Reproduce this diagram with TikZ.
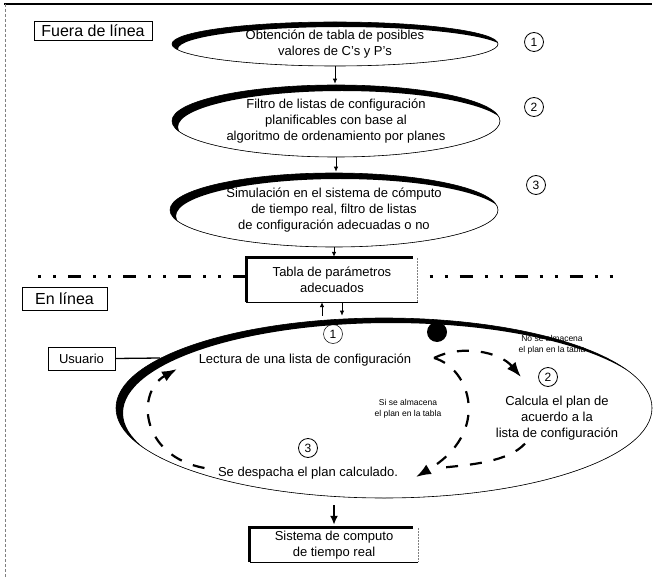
\documentclass[tikz,border=0pt]{standalone}
\usepackage{fontspec}
\setmainfont{Liberation Sans}
\usetikzlibrary{arrows.meta,shapes.geometric}

\tikzset{
  txt/.style={font=\fontsize{13pt}{16pt}\selectfont, align=center},
  chico/.style={font=\fontsize{8.5pt}{11pt}\selectfont, align=center},
  etiqueta/.style={draw, line width=0.8pt, font=\fontsize{16pt}{18pt}\selectfont, inner sep=0pt},
  caja/.style={txt, inner sep=0pt},
  num/.style={draw, circle, line width=0.8pt, minimum size=19pt, inner sep=0pt, font=\fontsize{12pt}{12pt}\selectfont},
  elipse/.style args={#1/#2/#3/#4}{ellipse, draw, line width=0.6pt, txt, inner sep=0pt,
    minimum width=#1pt, minimum height=#2pt,
    path picture={\fill[even odd rule] (path picture bounding box.center)
      ellipse [x radius=#1pt/2, y radius=#2pt/2] ++(#3pt,-#4pt) ellipse [x radius=#1pt/2, y radius=#2pt/2];}},
  flecha/.style={-{Latex[length=5pt,width=4.5pt]}, line width=0.8pt},
  flechagrande/.style={-{Latex[length=9pt,width=8pt]}, line width=1.8pt},
  ciclo/.style={line width=2.2pt, dash pattern=on 12pt off 12pt},
  punta/.style={-{Latex[length=15pt,width=11pt]}},
  separa/.style={line width=3pt, dash pattern=on 3pt off 12pt on 3pt off 12pt on 13pt off 12pt},
}

\begin{document}
\begin{tikzpicture}[x=1pt, y=-1pt]
  \useasboundingbox (0,0) rectangle (658,577);
  % Marco
  \draw[line width=1.2pt] (4,4) -- (652,4);
  \draw[gray, densely dashed, line width=0.6pt] (5,4) -- (5,577);

  % Fuera de línea
  \node[etiqueta, minimum width=118pt, minimum height=19pt] (fuera) at (93,31) {Fuera de línea};
  \node[elipse=326/44/6/5] (e1) at (335,44) {Obtención de tabla de posibles\\valores de C's y P's};
  \node[elipse=328/72/6/6] (e2) at (336,121) {Filtro de listas de configuración\\planificables con base al\\algoritmo de ordenamiento por planes};
  \node[elipse=328/74/6/6] (e3) at (334,210) {Simulación en el sistema de cómputo\\de tiempo real, filtro de listas\\de configuración adecuadas o no};
  \node[num] (n1) at (534,42) {1};
  \node[num] (n2) at (534,107) {2};
  \node[num] (n3) at (536,185) {3};
  \node[caja, minimum width=171pt, minimum height=44pt] (tabla) at (332,280) {Tabla de parámetros\\adecuados};

  \draw[flecha, shorten >=1pt] (e1.south) -- (e1.south |- e2.north);
  \draw[flecha, shorten >=1pt] (e2.south) -- (e2.south |- e3.north);
  \draw[flecha, shorten >=1pt] (e3.south) -- (e3.south |- tabla.north);

  % Separador
  \coordinate (sepizq) at (38,276);
  \coordinate (sepder) at (622,276);
  \draw[separa] (sepizq) -- (sepizq -| tabla.west);
  \draw[separa] ([xshift=12pt]tabla.east |- sepder) -- (sepder);

  % En línea
  \node[etiqueta, minimum width=85pt, minimum height=23pt] (enlinea) at (64.5,298.5) {En línea};
  \node[draw, line width=0.8pt, txt, minimum width=67pt, minimum height=23pt, inner sep=0pt] (usuario) at (81.5,358.5) {Usuario};
  \node[elipse=536/180/7/5] (plan) at (384,408) {};
  \node[caja, minimum width=168pt, minimum height=34pt] (sistema) at (334,545) {Sistema de computo\\de tiempo real};

  \foreach \n in {tabla,sistema}{
    \draw[gray, densely dotted, line width=0.5pt] (\n.north east) -- (\n.south east);
    \draw[line width=0.6pt] (\n.south east) -- (\n.south west);
    \draw[line width=3pt] (\n.south west) -- (\n.north west) -- ([xshift=-5pt]\n.north east);
  }

  \node[txt] (lectura) at (305,360) {Lectura de una lista de configuración};
  \node[num, line width=0.5pt] (m1) at (333,334) {1};
  \node[circle, fill, minimum size=20pt, inner sep=0pt] (punto) at (437,332) {};
  \node[chico] (noalm) at (552,345) {No se almacena\\el plan en la tabla};
  \node[num] (m2) at (548,377) {2};
  \node[txt] (calcula) at (557,418) {Calcula el plan de\\acuerdo a la\\lista de configuración};
  \node[chico] (sialm) at (408,409) {Si se almacena\\el plan en la tabla};
  \node[num] (m3) at (308,448) {3};
  \node[txt] (despacha) at (308,473) {Se despacha el plan calculado.};

  \draw[flecha, shorten <=2pt] ([xshift=-10pt]tabla.south |- plan.north) -- ([xshift=-10pt]tabla.south);
  \draw[flecha, shorten >=2pt] ([xshift=10pt]tabla.south) -- ([xshift=10pt]tabla.south |- plan.north);
  \draw[flechagrande, shorten <=7pt, shorten >=3pt] (plan.south -| sistema.north) -- (sistema.north);

  \coordinate (borde) at (160,358);
  \draw[line width=1.3pt] (usuario.east) -- (borde);

  % Ciclo en línea
  \coordinate (rama) at (434,358);
  \coordinate (haciados) at (521,377);
  \coordinate (haciatres) at (416,477);
  \coordinate (junta) at (438,468);
  \coordinate (haciauno) at (177,369);
  \draw[ciclo, punta] (rama) .. controls (462,344) and (500,352) .. (haciados);
  \draw[ciclo, punta] (rama) .. controls (470,368) and (492,432) .. (haciatres);
  \draw[ciclo] ([xshift=-32pt]calcula.south) .. controls (508,462) and (470,465) .. (junta);
  \draw[ciclo, punta] ([xshift=-10pt,yshift=5pt]despacha.west) .. controls (140,456) and (136,392) .. (haciauno);
\end{tikzpicture}
\end{document}
